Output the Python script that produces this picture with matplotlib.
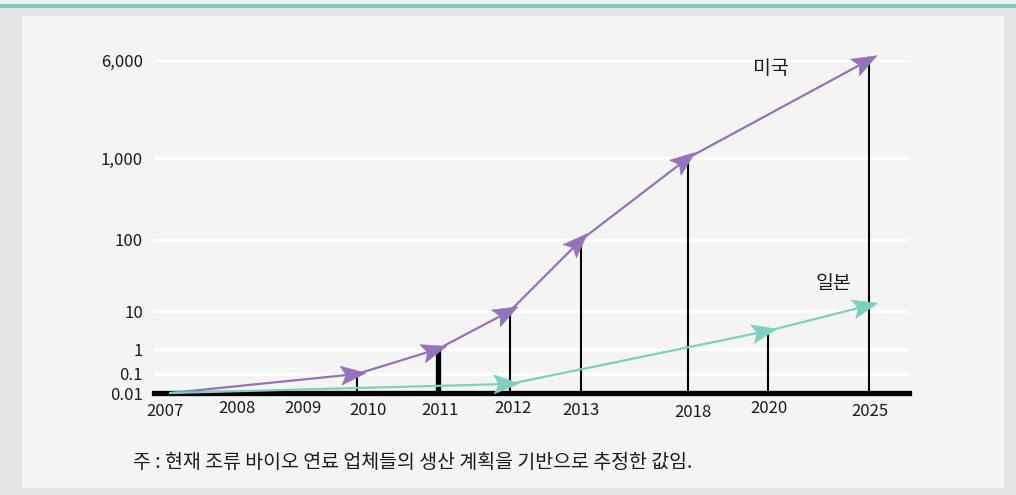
import numpy as np
import matplotlib
matplotlib.use("Agg")
import matplotlib.pyplot as plt
from matplotlib.patches import Rectangle, Polygon
from matplotlib.transforms import ScaledTranslation

plt.rcParams['font.family'] = ['Noto Sans CJK KR', 'DejaVu Sans']

# ---------------- data ----------------
YEARS_US = [2007, 2010, 2011, 2012, 2013, 2018, 2025]
VALUES_US = [0.01, 0.1, 1, 10, 100, 1000, 6000]
YEARS_JP = [2007, 2012, 2020, 2025]
VALUES_JP = [0.01, 0.03, 3, 12]
X_TICKS = [2007, 2008, 2009, 2010, 2011, 2012, 2013, 2018, 2020, 2025]
Y_TICKS = [0.01, 0.1, 1, 10, 100, 1000, 6000]
Y_TICK_LABELS = ['0.01', '0.1', '1', '10', '100', '1,000', '6,000']
LABEL_US = '미국'
LABEL_JP = '일본'
NOTE = '주 : 현재 조류 바이오 연료 업체들의 생산 계획을 기반으로 추정한 값임.'

# ---------------- layout / style ----------------
W, H = 1016, 495
X_PIX = [170, 237, 304, 357, 438, 510, 581, 688, 768, 869]   # irregular axis layout
Y_PIX = [393, 374, 349, 311, 240, 158, 60]
# small hand-placement offsets of the year labels in the original (pixels)
X_LABEL_DX = [-5, 0, -1, 11, 2, 3, 0, 5, 1, 1]
X_LABEL_DY = [-2, 1, 1, -1, -1, 1, -1, -3, 1, -2]
AX_L, AX_R, AX_B, AX_T = 154, 909, 393, 60
PURPLE = '#9373b9'
TEAL = '#7fcfbe'
TEXT = '#1a1a1a'
THICK_STEM_YEAR = 2011
HEAD_LEN, HEAD_HALF_W, HEAD_NOTCH, HEAD_EXT = 25, 9.5, 5, 9


def piecewise(xp, fp):
    xp = np.asarray(xp, float)
    fp = np.asarray(fp, float)

    def f(x):
        x = np.asarray(x, float)
        y = np.interp(x, xp, fp)
        y = np.where(x < xp[0], fp[0] + (x - xp[0]) * (fp[1] - fp[0]) / (xp[1] - xp[0]), y)
        y = np.where(x > xp[-1], fp[-1] + (x - xp[-1]) * (fp[-1] - fp[-2]) / (xp[-1] - xp[-2]), y)
        return y
    return f


fx = piecewise(X_TICKS, X_PIX)
ix = piecewise(X_PIX, X_TICKS)
_ylog = np.log10(Y_TICKS)
_ypos = H - np.asarray(Y_PIX, float)
_gy = piecewise(_ylog, _ypos)
_giy = piecewise(_ypos, _ylog)


def fy(v):
    return _gy(np.log10(np.clip(np.asarray(v, float), 1e-12, None)))


def iy(p):
    return 10 ** _giy(p)


fig = plt.figure(figsize=(W / 100, H / 100), dpi=100)
fig.patch.set_facecolor('#e3e3e3')
fig.add_artist(Rectangle((0, (H - 4) / H), 1, 4 / H, transform=fig.transFigure,
                         fc='#eeeeee', ec='none', zorder=0))
fig.add_artist(Rectangle((0, (H - 7.5) / H), 1, 3.5 / H, transform=fig.transFigure,
                         fc='#7ecbbb', ec='none', zorder=0))
fig.add_artist(Rectangle((22 / W, (H - 488) / H), (1004 - 22) / W, (488 - 16) / H,
                         transform=fig.transFigure, fc='#f4f4f4', ec='none', zorder=0))

ax = fig.add_axes([AX_L / W, (H - AX_B) / H, (AX_R - AX_L) / W, (AX_B - AX_T) / H])
ax.set_facecolor('none')
ax.set_xscale('function', functions=(fx, ix))
ax.set_yscale('function', functions=(fy, iy))
ax.set_xlim(float(ix(AX_L)), float(ix(AX_R)))
ax.set_ylim(Y_TICKS[0], Y_TICKS[-1])
for s in ax.spines.values():
    s.set_visible(False)

ax.set_xticks(X_TICKS)
ax.set_xticklabels([str(y) for y in X_TICKS])
ax.set_xticks([], minor=True)
ax.set_yticks(Y_TICKS)
ax.set_yticklabels(Y_TICK_LABELS)
ax.set_yticks([], minor=True)
ax.tick_params(axis='both', length=0, colors=TEXT)
ax.tick_params(axis='x', labelsize=12, pad=6)
ax.tick_params(axis='y', labelsize=12, pad=8)
for lab, dx, dy in zip(ax.get_xticklabels(), X_LABEL_DX, X_LABEL_DY):
    lab.set_transform(lab.get_transform() +
                      ScaledTranslation(dx / 100, dy / 100, fig.dpi_scale_trans))

# white gridlines
for v in Y_TICKS[1:]:
    ax.axhline(v, color='white', lw=2.3, zorder=0.5)

# baseline
ax.axhline(Y_TICKS[0], color='black', lw=3.8, zorder=2.5, clip_on=False)

# stems
series = [(YEARS_US, VALUES_US), (YEARS_JP, VALUES_JP)]
stem_tops = {}
for yrs, vals in series:
    for yr, v in zip(yrs[1:], vals[1:]):
        stem_tops[yr] = max(stem_tops.get(yr, 0), v)
for yr, top in sorted(stem_tops.items()):
    ax.vlines(yr, Y_TICKS[0], top, color='black',
              lw=3.8 if yr == THICK_STEM_YEAR else 1.5, zorder=2)


# lines with stealth arrowheads
def draw_series(yrs, vals, color):
    ax.plot(yrs, vals, color=color, lw=1.6, zorder=3, clip_on=False,
            solid_capstyle='round')
    pts = ax.transData.transform(np.column_stack([yrs, vals]))
    inv = ax.transData.inverted()
    for i in range(1, len(pts)):
        a, b = pts[i - 1], pts[i]
        u = (b - a) / np.hypot(*(b - a))
        n = np.array([-u[1], u[0]])
        tip = b + u * HEAD_EXT
        back = tip - u * HEAD_LEN
        notch = tip - u * (HEAD_LEN - HEAD_NOTCH)
        poly_px = np.array([tip, back + n * HEAD_HALF_W, notch, back - n * HEAD_HALF_W])
        ax.add_patch(Polygon(inv.transform(poly_px), closed=True, fc=color, ec=color,
                             lw=0.4, zorder=4, clip_on=False))


draw_series(YEARS_US, VALUES_US, PURPLE)
draw_series(YEARS_JP, VALUES_JP, TEAL)

ax.annotate(LABEL_US, xy=(YEARS_US[-1], VALUES_US[-1]), xytext=(-98, -8),
            textcoords='offset pixels', ha='center', va='center', fontsize=14,
            color=TEXT)
ax.annotate(LABEL_JP, xy=(YEARS_JP[-1], VALUES_JP[-1]), xytext=(-36, 22),
            textcoords='offset pixels', ha='center', va='center', fontsize=14,
            color=TEXT)

fig.text(133 / W, (H - 462) / H, NOTE, ha='left', va='center', fontsize=14,
         color=TEXT)

fig.savefig('out.png', dpi=100, facecolor=fig.get_facecolor())
